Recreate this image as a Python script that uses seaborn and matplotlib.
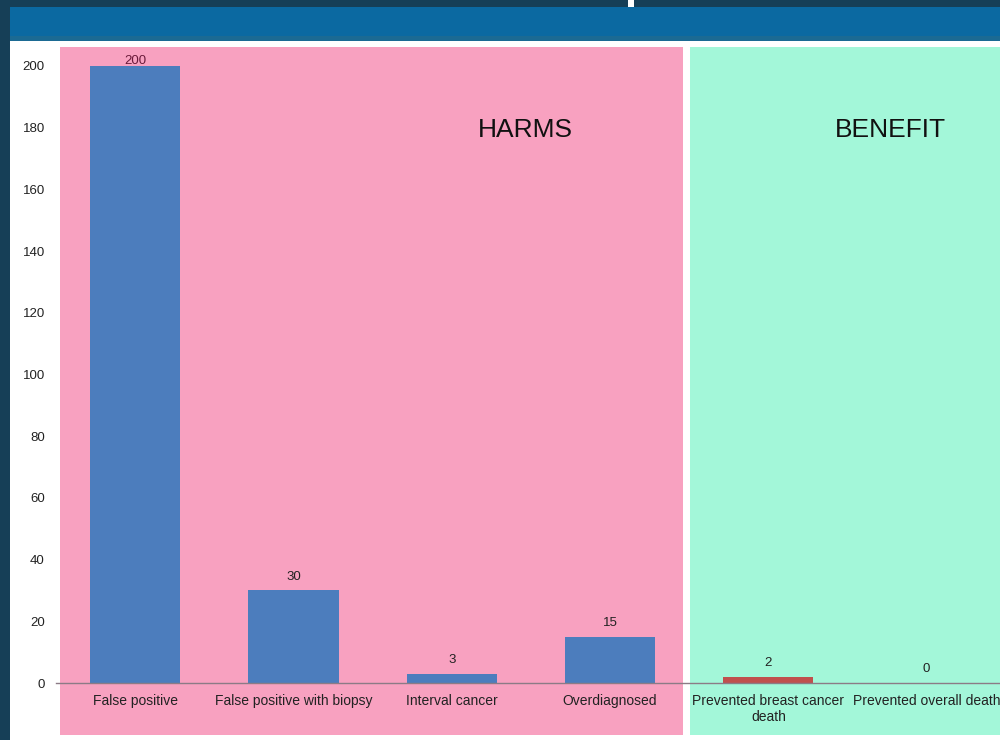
import matplotlib
matplotlib.use("Agg")
import matplotlib.pyplot as plt
from matplotlib.patches import Rectangle
import seaborn as sns
import pandas as pd

categories = ["False positive", "False positive with biopsy", "Interval cancer",
              "Overdiagnosed", "Prevented breast cancer\ndeath", "Prevented overall death"]
values = [200, 30, 3, 15, 2, 0]
groups = ["harm", "harm", "harm", "harm", "benefit", "benefit"]
value_labels = ["200", "30", "3", "15", "2", "0"]
yticks = [0, 20, 40, 60, 80, 100, 120, 140, 160, 180, 200]

sns.set_theme(style="white")
plt.rcParams["font.family"] = ["Liberation Sans", "DejaVu Sans"]

W, H = 1000, 740
fig = plt.figure(figsize=(10, 7.4), dpi=100)
fig.patch.set_facecolor("#163f57")

def px_rect(x0, y0, x1, y1, color, z=-1):
    fig.patches.append(Rectangle((x0 / W, 1 - y1 / H), (x1 - x0) / W, (y1 - y0) / H,
                                 transform=fig.transFigure, facecolor=color,
                                 edgecolor="none", zorder=z))

# slide decorations
px_rect(10, 7, 1000, 41, "#0b69a1")
px_rect(10, 36, 1000, 41, "#1b6a93")
px_rect(10, 41, 1000, 740, "#ffffff")
px_rect(628, 0, 634, 7, "#ffffff")
px_rect(60, 47, 683, 735, "#f8a1c0")
px_rect(690, 47, 1000, 735, "#a3f7d9")

# axes: y=0 at px 683, y=200 at px 66
x_left, x_right = 56, 1000
y_bottom, y_top = 683, 47
ax = fig.add_axes([x_left / W, 1 - y_bottom / H, (x_right - x_left) / W, (y_bottom - y_top) / H])
ax.set_facecolor("none")
ax.patch.set_alpha(0)
ax.set_zorder(1)

df = pd.DataFrame({"category": categories, "value": values, "group": groups})
sns.barplot(data=df, x="category", y="value", hue="group",
            palette={"harm": "#4c7dbd", "benefit": "#c0504d"},
            dodge=False, width=0.57, saturation=1, legend=False,
            linewidth=0, edgecolor="none", ax=ax)

unit = 158.3
ax.set_xlim(-0.5, -0.5 + (x_right - x_left) / unit)
ax.set_ylim(0, (y_bottom - y_top) / 3.085)
ax.set_yticks(yticks)
ax.set_yticklabels([str(t) for t in yticks], fontsize=9.5, color="#222222")
ax.tick_params(axis="y", length=0, pad=8)
ax.tick_params(axis="x", length=0, pad=8, labelsize=10, labelcolor="#222222")
ax.set_xlabel("")
ax.set_ylabel("")
for s in ["top", "right", "left"]:
    ax.spines[s].set_visible(False)
ax.spines["bottom"].set_color("#8c7b86")
ax.spines["bottom"].set_linewidth(1)

offsets = [-1, 5.5, 5.5, 5.5, 5.5, 5.5]
for i, (v, lab) in enumerate(zip(values, value_labels)):
    ax.annotate(lab, (i, v), xytext=(0, offsets[i]), textcoords="offset points",
                ha="center", va="bottom", fontsize=9.5,
                color="#6a1a3a" if i == 0 else "#222222", annotation_clip=False)

fig.text(525 / W, 1 - 130 / H, "HARMS", ha="center", va="center", fontsize=19, color="#111111")
fig.text(890 / W, 1 - 130 / H, "BENEFIT", ha="center", va="center", fontsize=19, color="#111111")

fig.savefig("out.png", dpi=100, facecolor=fig.get_facecolor())
